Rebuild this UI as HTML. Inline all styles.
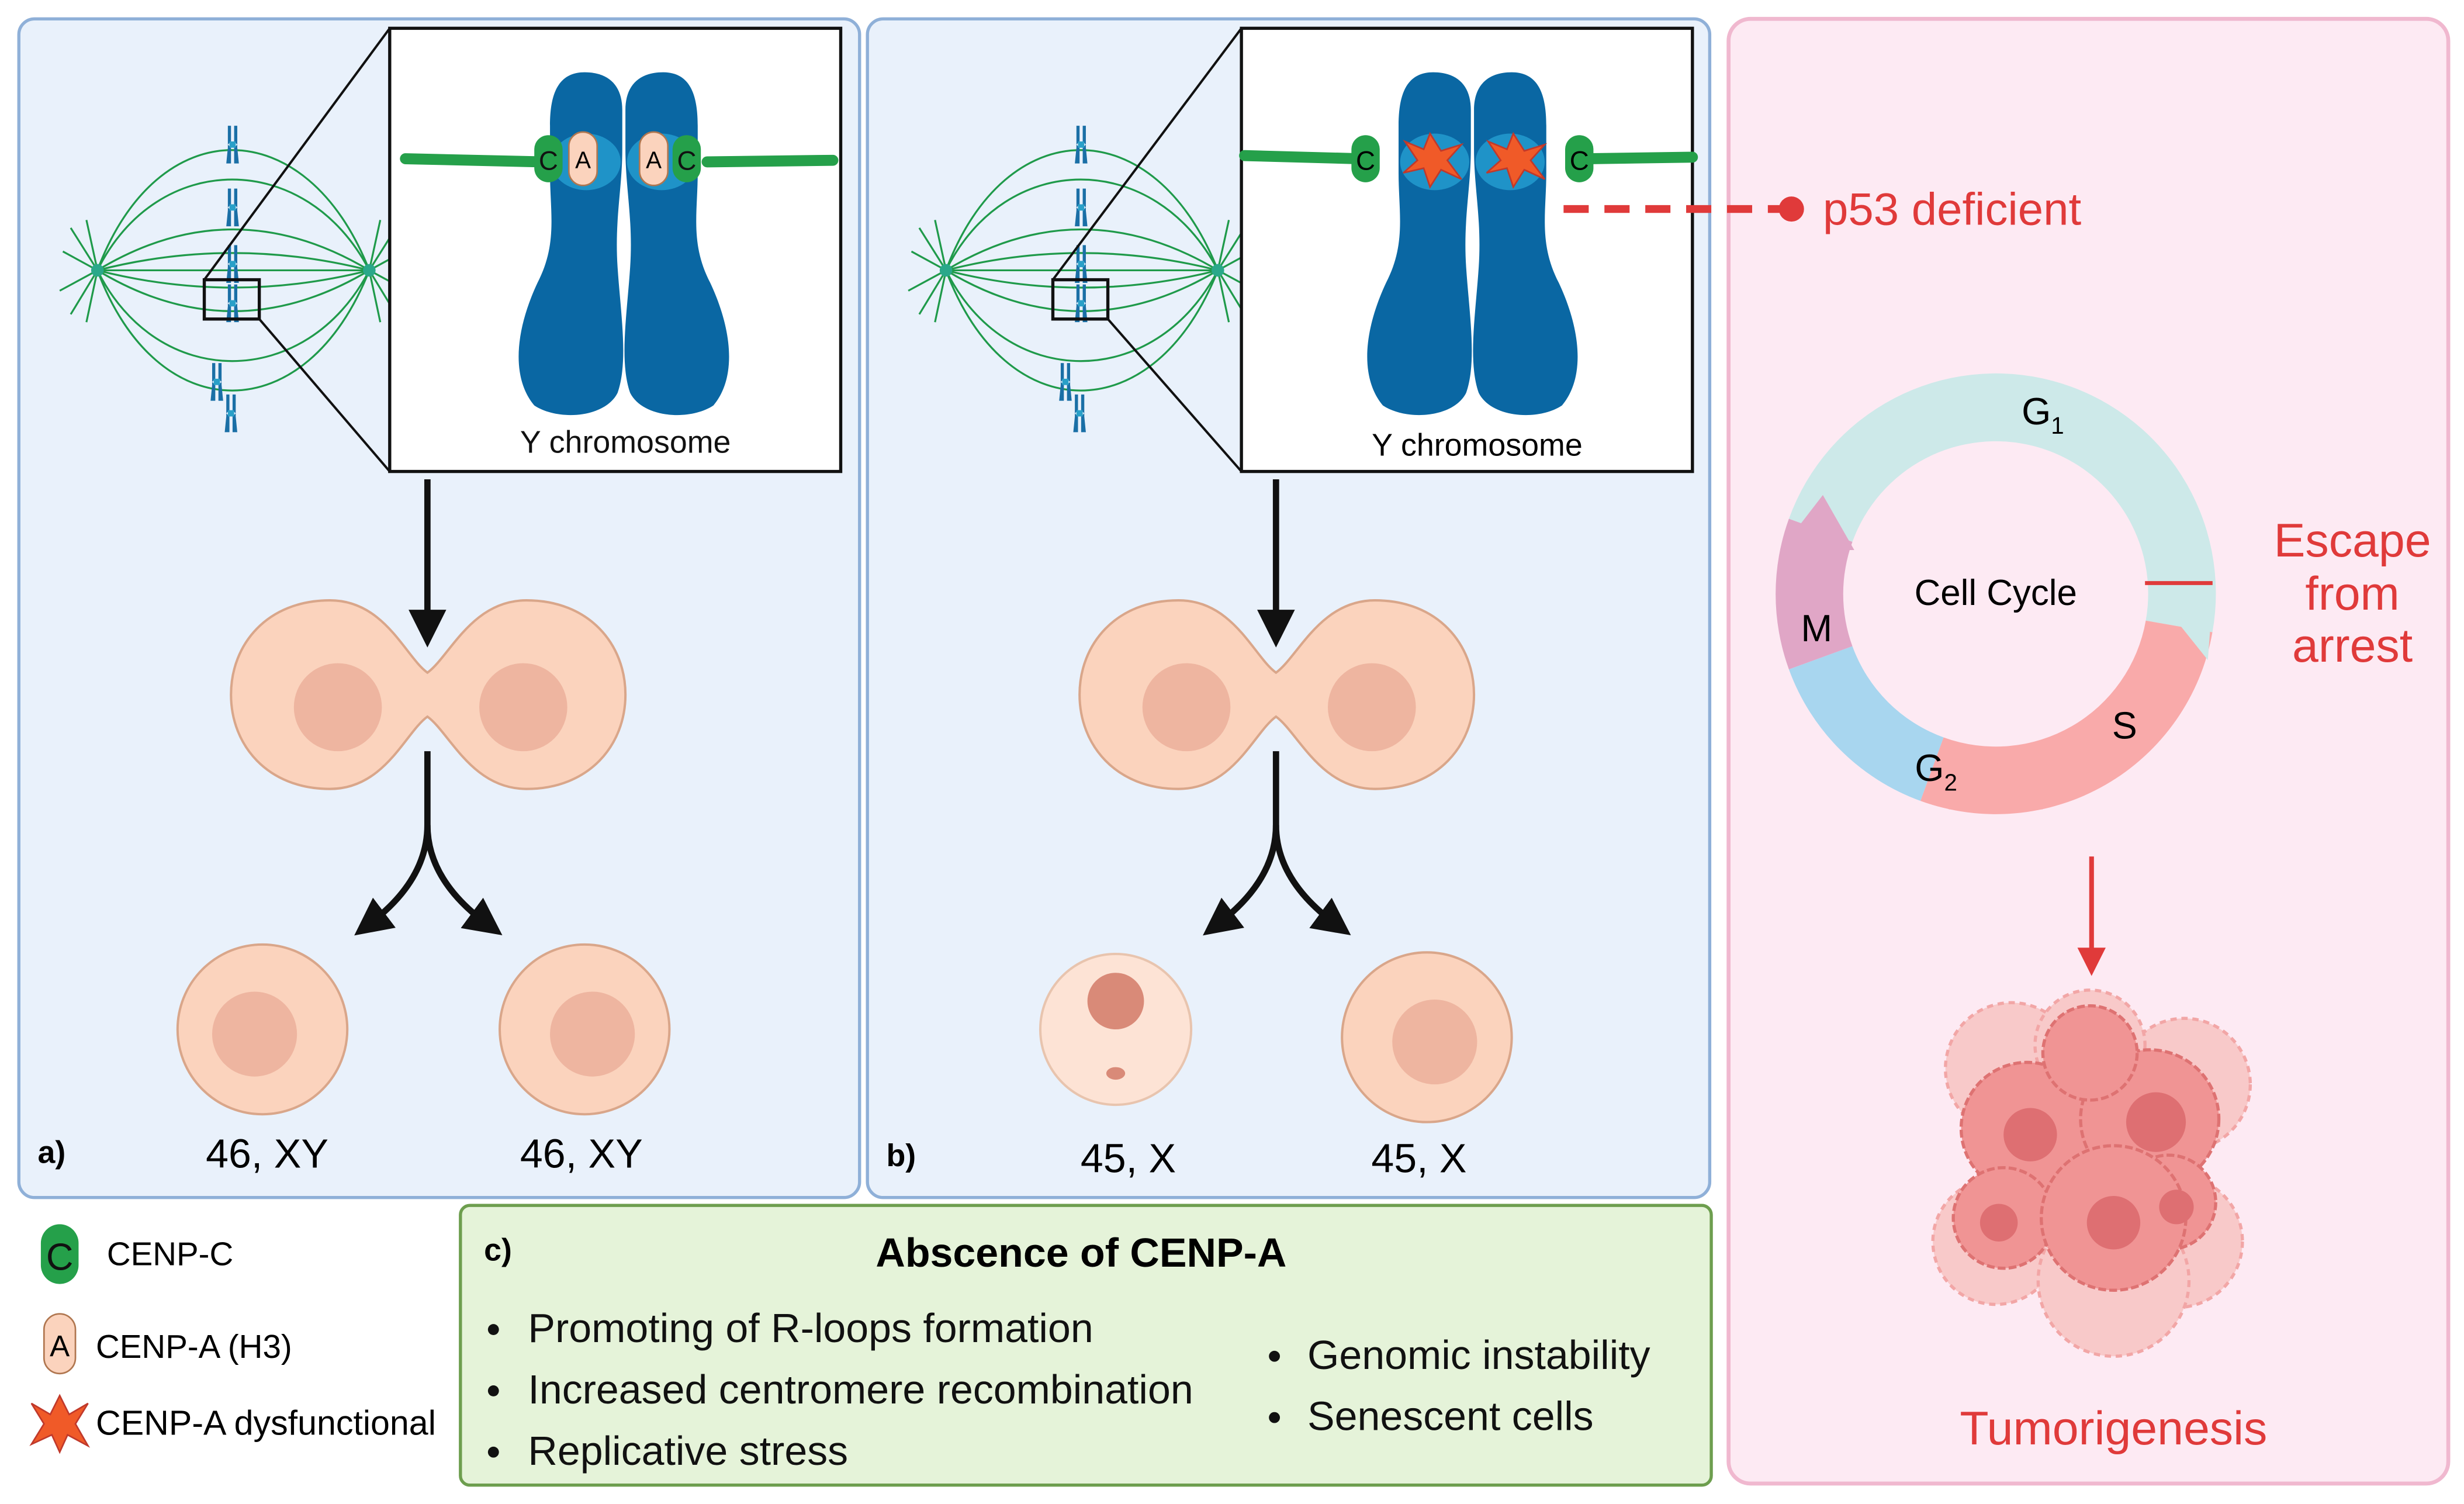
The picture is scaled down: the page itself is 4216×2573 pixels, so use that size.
<!DOCTYPE html>
<html><head><meta charset="utf-8"><style>html,body{margin:0;padding:0;background:#fff}svg{display:block}</style></head>
<body>
<svg width="4216" height="2573" viewBox="0 0 1568 957" preserveAspectRatio="none" xmlns="http://www.w3.org/2000/svg" font-family="Liberation Sans, sans-serif">
<defs>
<marker id="ah" markerWidth="6" markerHeight="6" refX="3" refY="3" orient="auto" markerUnits="strokeWidth"><path d="M0,0 L6,3 L0,6 z" fill="#111"/></marker>
<marker id="ahr" markerWidth="6" markerHeight="6" refX="3" refY="3" orient="auto" markerUnits="strokeWidth"><path d="M0,0 L6,3 L0,6 z" fill="#e03a3a"/></marker>
<g id="xc" fill="#1a6fa6"><path d="M-3,-12 L-1,-12 L-1,-2 L-3,0 L-1,2 L-1,12 L-4,12 L-3,2 L-3,-2 Z M3,-12 L1,-12 L1,-2 L3,0 L1,2 L1,12 L4,12 L3,2 L3,-2 Z"/><rect x="-2" y="-2" width="4" height="4" fill="#2aa0c8"/></g>
<g id="spindle" fill="none" stroke="#1f9a4a" stroke-width="1.2">
<path d="M62,172 C100,70 195,70 235,172"/><path d="M62,172 C100,95 195,95 235,172"/><path d="M62,172 Q148,120 235,172"/><path d="M62,172 Q148,150 235,172"/><path d="M62,172 L235,172"/>
<path d="M62,172 Q148,194 235,172"/><path d="M62,172 Q148,224 235,172"/><path d="M62,172 C100,249 195,249 235,172"/><path d="M62,172 C100,274 195,274 235,172"/>
<path d="M40,160 L62,172 L38,185 M45,145 L62,172 L45,200 M55,140 L62,172 L55,205"/>
<path d="M257,160 L235,172 L259,185 M252,145 L235,172 L252,200 M242,140 L235,172 L242,205"/>
<circle cx="62" cy="172" r="4" fill="#2aa88a" stroke="none"/><circle cx="235" cy="172" r="4" fill="#2aa88a" stroke="none"/>
<g stroke="none"><use href="#xc" x="148" y="92"/><use href="#xc" x="148" y="132"/><use href="#xc" x="148" y="168"/><use href="#xc" x="148" y="193"/><use href="#xc" x="138" y="243"/><use href="#xc" x="147" y="263"/></g>
</g>
<g id="chrom" fill="#0a67a3">
<path d="M372,46 C355,46 350,60 350,80 L350,110 C350,135 355,155 342,180 C328,210 325,240 340,258 C355,268 385,266 393,250 C400,230 395,200 393,170 C391,140 396,120 396,95 L396,70 C396,55 388,46 372,46 Z"/>
<path d="M422,46 C439,46 444,60 444,80 L444,110 C444,135 439,155 452,180 C466,210 469,240 454,258 C439,268 409,266 401,250 C394,230 399,200 401,170 C403,140 398,120 398,95 L398,70 C398,55 406,46 422,46 Z"/>
<ellipse cx="373" cy="103" rx="22" ry="18" fill="#1f93c8"/><ellipse cx="421" cy="103" rx="22" ry="18" fill="#1f93c8"/>
</g>
<g id="cells">
<path d="M210,382 C245,382 258,418 272,428 C286,418 300,382 335,382 C375,382 398,410 398,442 C398,474 375,502 335,502 C300,502 286,466 272,456 C258,466 245,502 210,502 C170,502 147,474 147,442 C147,410 170,382 210,382 Z" fill="#fbd3bd" stroke="#d9a68a" stroke-width="1.5"/>
<circle cx="215" cy="450" r="28" fill="#eeb5a0"/><circle cx="333" cy="450" r="28" fill="#eeb5a0"/>
<line x1="272" y1="305" x2="272" y2="400" stroke="#111" stroke-width="4" marker-end="url(#ah)"/>
<path d="M272,478 L272,525 Q272,560 235,588" fill="none" stroke="#111" stroke-width="4" marker-end="url(#ah)"/>
<path d="M272,525 Q272,560 310,588" fill="none" stroke="#111" stroke-width="4" marker-end="url(#ah)"/>
</g>
</defs>

<rect x="12" y="12" width="535" height="750" rx="10" fill="#e9f1fb" stroke="#8fb0d8" stroke-width="2"/>
<rect x="552" y="12" width="536" height="750" rx="10" fill="#e9f1fb" stroke="#8fb0d8" stroke-width="2"/>
<rect x="1100" y="12" width="458" height="932" rx="14" fill="#fdeaf3" stroke="#f0b8cf" stroke-width="2.5"/>
<rect x="293" y="767" width="796" height="178" rx="6" fill="#e5f3d9" stroke="#6d9e4e" stroke-width="2"/>

<use href="#spindle"/>
<rect x="130" y="178" width="35" height="25" fill="none" stroke="#111" stroke-width="2"/>
<line x1="130" y1="178" x2="248" y2="18" stroke="#111" stroke-width="1.5"/>
<line x1="165" y1="203" x2="248" y2="300" stroke="#111" stroke-width="1.5"/>
<rect x="248" y="18" width="287" height="282" fill="#fff" stroke="#111" stroke-width="2"/>
<use href="#chrom"/>
<line x1="258" y1="101" x2="345" y2="103" stroke="#25a04a" stroke-width="7" stroke-linecap="round"/>
<line x1="450" y1="103" x2="530" y2="102" stroke="#25a04a" stroke-width="7" stroke-linecap="round"/>
<rect x="340" y="86" width="18" height="30" rx="9" fill="#25a04a"/><text x="349" y="108" font-size="17" text-anchor="middle" fill="#111">C</text>
<rect x="362" y="84" width="18" height="34" rx="9" fill="#fbd3bd" stroke="#b0764f"/><text x="371" y="107" font-size="15" text-anchor="middle">A</text>
<rect x="407" y="84" width="18" height="34" rx="9" fill="#fbd3bd" stroke="#b0764f"/><text x="416" y="107" font-size="15" text-anchor="middle">A</text>
<rect x="428" y="86" width="18" height="30" rx="9" fill="#25a04a"/><text x="437" y="108" font-size="17" text-anchor="middle" fill="#111">C</text>
<text x="398" y="288" font-size="20" text-anchor="middle" fill="#111">Y chromosome</text>
<use href="#cells"/>
<circle cx="167" cy="655" r="54" fill="#fbd3bd" stroke="#d9a68a" stroke-width="1.5"/><circle cx="162" cy="658" r="27" fill="#eeb5a0"/>
<circle cx="372" cy="655" r="54" fill="#fbd3bd" stroke="#d9a68a" stroke-width="1.5"/><circle cx="377" cy="658" r="27" fill="#eeb5a0"/>
<text x="24" y="740" font-size="20" font-weight="bold">a)</text>
<text x="170" y="743" font-size="26" text-anchor="middle">46, XY</text>
<text x="370" y="743" font-size="26" text-anchor="middle">46, XY</text>

<g transform="translate(540,0)">
<use href="#spindle"/>
<rect x="130" y="178" width="35" height="25" fill="none" stroke="#111" stroke-width="2"/>
<line x1="130" y1="178" x2="250" y2="18" stroke="#111" stroke-width="1.5"/>
<line x1="165" y1="203" x2="250" y2="300" stroke="#111" stroke-width="1.5"/>
<rect x="250" y="18" width="287" height="282" fill="#fff" stroke="#111" stroke-width="2"/>
<use href="#chrom"/>
<line x1="252" y1="99" x2="325" y2="101" stroke="#25a04a" stroke-width="7" stroke-linecap="round"/>
<line x1="470" y1="101" x2="537" y2="100" stroke="#25a04a" stroke-width="7" stroke-linecap="round"/>
<rect x="320" y="86" width="18" height="30" rx="9" fill="#25a04a"/><text x="329" y="108" font-size="17" text-anchor="middle">C</text>
<rect x="456" y="86" width="18" height="30" rx="9" fill="#25a04a"/><text x="465" y="108" font-size="17" text-anchor="middle">C</text>
<path d="M370,85 L377,96 L390,92 L381,102 L390,114 L377,108 L370,119 L366,107 L353,110 L362,102 L354,90 L366,95 Z" fill="#f05a28" stroke="#c0392b"/>
<path d="M423,85 L430,96 L443,92 L434,102 L443,114 L430,108 L423,119 L419,107 L406,110 L415,102 L407,90 L419,95 Z" fill="#f05a28" stroke="#c0392b"/>
<text x="400" y="290" font-size="20" text-anchor="middle">Y chromosome</text>
<use href="#cells"/>
<circle cx="170" cy="655" r="48" fill="#fde3d5" stroke="#e8c4ae" stroke-width="1.5"/><ellipse cx="170" cy="637" rx="18" ry="18" fill="#d98a78"/><ellipse cx="170" cy="683" rx="6" ry="4" fill="#d98a78"/>
<circle cx="368" cy="660" r="54" fill="#fbd3bd" stroke="#d9a68a" stroke-width="1.5"/><circle cx="373" cy="663" r="27" fill="#eeb5a0"/>
<text x="24" y="742" font-size="20" font-weight="bold">b)</text>
<text x="178" y="746" font-size="26" text-anchor="middle">45, X</text>
<text x="363" y="746" font-size="26" text-anchor="middle">45, X</text>
</g>

<line x1="995" y1="133" x2="1135" y2="133" stroke="#e03a3a" stroke-width="5" stroke-dasharray="16,10"/>
<circle cx="1140" cy="133" r="8" fill="#e03a3a"/>
<text x="1160" y="143" font-size="29" fill="#e03a3a">p53 deficient</text>

<path d="M1138.4,330.1 A140,140 0 0 1 1407.9,402.3 L1365.5,394.9 A97,97 0 0 0 1178.8,344.8 Z" fill="#cde9e9"/>
<path d="M1407.9,402.3 A140,140 0 0 1 1222.1,509.6 L1236.8,469.2 A97,97 0 0 0 1365.5,394.9 Z" fill="#f9aaaa"/>
<path d="M1385,395 L1408,380 L1405,420 Z" fill="#cde9e9"/>
<path d="M1222.1,509.6 A140,140 0 0 1 1138.4,425.9 L1178.8,411.2 A97,97 0 0 0 1236.8,469.2 Z" fill="#a8d6ef"/>
<path d="M1138.4,425.9 A140,140 0 0 1 1138.4,330.1 L1178.8,344.8 A97,97 0 0 0 1178.8,411.2 Z" fill="#e0a6c6"/>
<path d="M1133,350 L1160,315 L1180,350 Z" fill="#e0a6c6"/>
<path d="M1270,485 L1300,515 L1240,515 Z" fill="#f9aaaa"/>
<text x="1300" y="270" font-size="24" text-anchor="middle">G<tspan font-size="15" dy="6">1</tspan></text>
<text x="1352" y="470" font-size="24" text-anchor="middle">S</text>
<text x="1232" y="497" font-size="24" text-anchor="middle">G<tspan font-size="15" dy="6">2</tspan></text>
<text x="1156" y="408" font-size="24" text-anchor="middle">M</text>
<text x="1270" y="385" font-size="23" text-anchor="middle">Cell Cycle</text>
<line x1="1365" y1="371" x2="1408" y2="371" stroke="#e03a3a" stroke-width="2.5"/>
<g font-size="30" fill="#e03a3a" text-anchor="middle"><text x="1497" y="354">Escape</text><text x="1497" y="388">from</text><text x="1497" y="421">arrest</text></g>
<line x1="1331" y1="545" x2="1331" y2="612" stroke="#e03a3a" stroke-width="3" marker-end="url(#ahr)"/>

<g stroke="#f2a6a6" stroke-width="2" stroke-dasharray="4,3">
<circle cx="1280" cy="680" r="42" fill="#f8c9c9"/><circle cx="1390" cy="690" r="42" fill="#f8c9c9"/><circle cx="1270" cy="790" r="40" fill="#f8c9c9"/><circle cx="1385" cy="790" r="42" fill="#f8c9c9"/><circle cx="1345" cy="815" r="48" fill="#f8c9c9"/><circle cx="1330" cy="665" r="35" fill="#f8c9c9"/>
</g>
<g fill="#f09494" stroke="#de7272" stroke-width="2" stroke-dasharray="5,2">
<circle cx="1290" cy="718" r="42"/><circle cx="1368" cy="712" r="44"/><circle cx="1275" cy="775" r="32"/><circle cx="1380" cy="765" r="30"/><circle cx="1345" cy="775" r="46"/><circle cx="1330" cy="670" r="30"/>
</g>
<g fill="#de6f72"><circle cx="1292" cy="722" r="17"/><circle cx="1372" cy="714" r="19"/><circle cx="1345" cy="778" r="17"/><circle cx="1272" cy="778" r="12"/><circle cx="1385" cy="768" r="11"/></g>
<text x="1345" y="919" font-size="30" fill="#e03a3a" text-anchor="middle">Tumorigenesis</text>

<rect x="26" y="779" width="24" height="38" rx="12" fill="#25a04a"/><text x="38" y="808" font-size="24" text-anchor="middle" fill="#111">C</text>
<text x="68" y="805" font-size="21">CENP-C</text>
<rect x="28" y="836" width="20" height="38" rx="10" fill="#fbd3bd" stroke="#b0764f"/><text x="38" y="863" font-size="19" text-anchor="middle">A</text>
<text x="61" y="864" font-size="21">CENP-A (H3)</text>
<path d="M38,888 L44,900 L56,893 L48,906 L56,920 L43,913 L38,924 L33,913 L20,919 L28,906 L20,893 L32,900 Z" fill="#f05a28" stroke="#c0392b"/>
<text x="61" y="913" font-size="22">CENP-A dysfunctional</text>

<text x="308" y="802" font-size="20" font-weight="bold">c)</text>
<text x="688" y="806" font-size="26" font-weight="bold" text-anchor="middle">Abscence of CENP-A</text>
<g font-size="26" fill="#111">
<circle cx="314" cy="846" r="3.5"/><text x="336" y="854">Promoting of R-loops formation</text>
<circle cx="314" cy="885" r="3.5"/><text x="336" y="893">Increased centromere recombination</text>
<circle cx="314" cy="924" r="3.5"/><text x="336" y="932">Replicative stress</text>
<circle cx="811" cy="863" r="3.5"/><text x="832" y="871">Genomic instability</text>
<circle cx="811" cy="902" r="3.5"/><text x="832" y="910">Senescent cells</text>
</g>
</svg>
</body></html>
